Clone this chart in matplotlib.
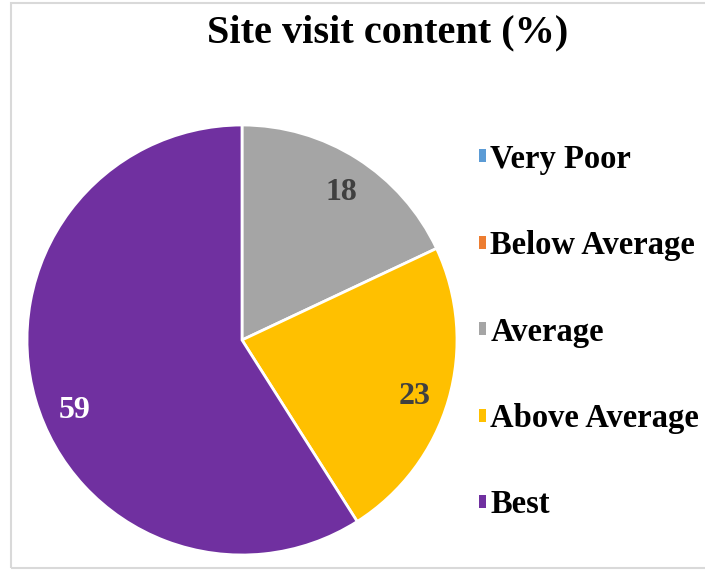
import numpy as np
import matplotlib.pyplot as plt
from matplotlib.patches import Patch, Rectangle

categories = ['Very Poor', 'Below Average', 'Average', 'Above Average', 'Best']
values = [0, 0, 18, 23, 59]
colors = ['#5B9BD5', '#ED7D31', '#A5A5A5', '#FFC000', '#7030A0']
label_colors = ['#404040', '#404040', '#404040', '#404040', 'white']
# small angle nudges (deg) to mimic the "best fit" label placement
label_nudge = [0, 0, -1, -1, 5.5]

plt.rcParams['font.family'] = 'Liberation Serif'
plt.rcParams['font.weight'] = 'bold'

fig = plt.figure(figsize=(7.05, 5.71), dpi=100)
fig.patches.append(Rectangle((11 / 705, 3 / 571), 700 / 705, 565 / 571,
                             transform=fig.transFigure, fill=False,
                             edgecolor='#D9D9D9', lw=1.5))

ax = fig.add_axes([27 / 705, 16 / 571, 430 / 705, 430 / 571])
wedges, _ = ax.pie(values, colors=colors, startangle=90, counterclock=False,
                   radius=1, wedgeprops=dict(edgecolor='white', linewidth=2))
ax.set_xlim(-1, 1)
ax.set_ylim(-1, 1)
ax.set_aspect('equal')

# data labels along the wedge mid angle
start = 90.0
for v, lc, nd in zip(values, label_colors, label_nudge):
    ang = start - v / 2 * 3.6 + nd
    start -= v * 3.6
    if v == 0:
        continue
    r = 0.84
    ax.text(r * np.cos(np.radians(ang)), r * np.sin(np.radians(ang)), str(v),
            ha='center', va='center_baseline', fontsize=23,
            fontweight='bold', color=lc)

fig.text(388 / 705, 1 - 33 / 571, 'Site visit content (%)', ha='center',
         va='center', fontsize=29, fontweight='bold')

handles = [Patch(facecolor=c, edgecolor='none') for c in colors]
fig.legend(handles, categories, loc='center left',
           bbox_to_anchor=(479 / 705, 1 - 332 / 571), frameon=False,
           fontsize=23.5, handlelength=0.22, handleheight=0.22,
           handletextpad=0.13, labelspacing=1.7, borderpad=0,
           borderaxespad=0)

fig.savefig('out.png', dpi=100)
